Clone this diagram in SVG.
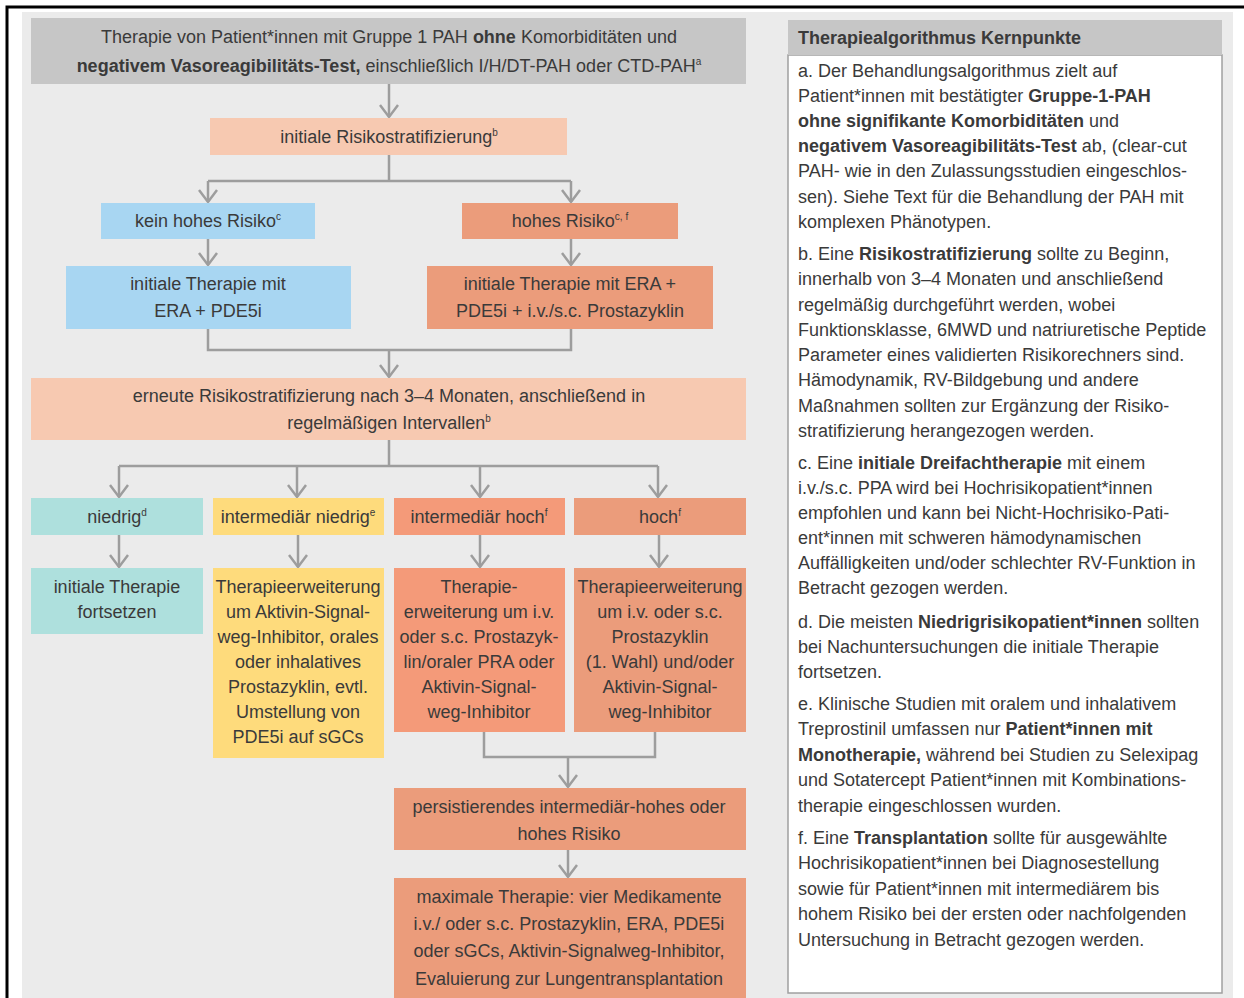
<svg xmlns="http://www.w3.org/2000/svg" width="1244" height="998" viewBox="0 0 1244 998">
<style>
.t{font-family:"Liberation Sans",Arial,sans-serif;font-size:18px;fill:#3a3a3a}
.c{text-anchor:middle}
.b{font-weight:bold}
.sup{font-size:10px}
.conn{stroke:#9d9d9d;stroke-width:2.5;fill:none}
.gray{fill:#c6c6c6}
.lsal{fill:#f7c9b1}
.blue{fill:#a8d6f2}
.orng{fill:#eb9c7b}
.teal{fill:#aee0dd}
.yell{fill:#fedb7c}
.red{fill:#f49a79}
</style>
<defs>
<marker id="ah" markerUnits="userSpaceOnUse" markerWidth="30" markerHeight="30" refX="0" refY="0" orient="auto" overflow="visible">
<path d="M-12,-9 L0,0 L-12,9" fill="none" stroke="#9d9d9d" stroke-width="2.5"/>
</marker>
</defs>
<rect x="0" y="0" width="1244" height="998" fill="#ffffff"/>
<rect x="22" y="12" width="1211" height="990" fill="#ebebeb"/>
<path d="M7,998 V7 H1244" fill="none" stroke="#000" stroke-width="3"/>

<g id="connectors">
<path class="conn" d="M389,84 V117" marker-end="url(#ah)"/>
<path class="conn" d="M389,155 V181 M208,181 H571"/>
<path class="conn" d="M208,181 V202" marker-end="url(#ah)"/>
<path class="conn" d="M571,181 V202" marker-end="url(#ah)"/>
<path class="conn" d="M208,239 V265" marker-end="url(#ah)"/>
<path class="conn" d="M571,239 V265" marker-end="url(#ah)"/>
<path class="conn" d="M208,329 V350 H571 V329"/>
<path class="conn" d="M389,350 V377" marker-end="url(#ah)"/>
<path class="conn" d="M389,440 V466 M119,466 H658"/>
<path class="conn" d="M119,466 V497" marker-end="url(#ah)"/>
<path class="conn" d="M297,466 V497" marker-end="url(#ah)"/>
<path class="conn" d="M480,466 V497" marker-end="url(#ah)"/>
<path class="conn" d="M658,466 V497" marker-end="url(#ah)"/>
<path class="conn" d="M119,535 V567" marker-end="url(#ah)"/>
<path class="conn" d="M298,535 V567" marker-end="url(#ah)"/>
<path class="conn" d="M480,535 V567" marker-end="url(#ah)"/>
<path class="conn" d="M659,535 V567" marker-end="url(#ah)"/>
<path class="conn" d="M484,732 V757 H655 V732"/>
<path class="conn" d="M568,757 V787" marker-end="url(#ah)"/>
<path class="conn" d="M568,850 V877" marker-end="url(#ah)"/>
</g>

<g id="n-start">
<rect class="gray" x="31" y="18" width="715" height="66"/>
<text class="t c" x="389" y="43">Therapie von Patient*innen mit Gruppe 1 PAH <tspan class="b">ohne</tspan> Komorbiditäten und</text>
<text class="t c" x="389" y="72"><tspan class="b">negativem Vasoreagibilitäts-Test,</tspan> einschließlich I/H/DT-PAH oder CTD-PAH<tspan class="sup" dy="-7">a</tspan></text>
</g>

<g id="n-initrisk">
<rect class="lsal" x="210" y="118" width="357" height="37"/>
<text class="t c" x="389" y="143">initiale Risikostratifizierung<tspan class="sup" dy="-7">b</tspan></text>
</g>

<g id="n-keinhoch">
<rect class="blue" x="101" y="203" width="214" height="36"/>
<text class="t c" x="208" y="227">kein hohes Risiko<tspan class="sup" dy="-7">c</tspan></text>
</g>

<g id="n-hoch1">
<rect class="orng" x="462" y="203" width="216" height="36"/>
<text class="t c" x="570" y="227">hohes Risiko<tspan class="sup" dy="-7">c, f</tspan></text>
</g>

<g id="n-ther1">
<rect class="blue" x="66" y="266" width="285" height="63"/>
<text class="t c" x="208" y="290">initiale Therapie mit</text>
<text class="t c" x="208" y="317">ERA + PDE5i</text>
</g>

<g id="n-ther2">
<rect class="orng" x="427" y="266" width="286" height="63"/>
<text class="t c" x="570" y="290">initiale Therapie mit ERA +</text>
<text class="t c" x="570" y="317">PDE5i + i.v./s.c. Prostazyklin</text>
</g>

<g id="n-reassess">
<rect class="lsal" x="31" y="378" width="715" height="62"/>
<text class="t c" x="389" y="402">erneute Risikostratifizierung nach 3–4 Monaten, anschließend in</text>
<text class="t c" x="389" y="429">regelmäßigen Intervallen<tspan class="sup" dy="-7">b</tspan></text>
</g>

<g id="n-niedrig">
<rect class="teal" x="31" y="498" width="172" height="37"/>
<text class="t c" x="117" y="523">niedrig<tspan class="sup" dy="-7">d</tspan></text>
</g>

<g id="n-intniedrig">
<rect class="yell" x="213" y="498" width="171" height="37"/>
<text class="t c" x="298" y="523">intermediär niedrig<tspan class="sup" dy="-7">e</tspan></text>
</g>

<g id="n-inthoch">
<rect class="red" x="394" y="498" width="171" height="37"/>
<text class="t c" x="479" y="523">intermediär hoch<tspan class="sup" dy="-7">f</tspan></text>
</g>

<g id="n-hoch2">
<rect class="orng" x="574" y="498" width="172" height="37"/>
<text class="t c" x="660" y="523">hoch<tspan class="sup" dy="-7">f</tspan></text>
</g>

<g id="n-fortsetzen">
<rect class="teal" x="31" y="568" width="172" height="66"/>
<text class="t c" x="117" y="593">initiale Therapie</text>
<text class="t c" x="117" y="618">fortsetzen</text>
</g>

<g id="n-erw1">
<rect class="yell" x="213" y="568" width="171" height="190"/>
<text class="t c" x="298" y="593">Therapieerweiterung</text>
<text class="t c" x="298" y="618">um Aktivin-Signal-</text>
<text class="t c" x="298" y="643">weg-Inhibitor, orales</text>
<text class="t c" x="298" y="668">oder inhalatives</text>
<text class="t c" x="298" y="693">Prostazyklin, evtl.</text>
<text class="t c" x="298" y="718">Umstellung von</text>
<text class="t c" x="298" y="743">PDE5i auf sGCs</text>
</g>

<g id="n-erw2">
<rect class="red" x="394" y="568" width="171" height="164"/>
<text class="t c" x="479" y="593">Therapie-</text>
<text class="t c" x="479" y="618">erweiterung um i.v.</text>
<text class="t c" x="479" y="643">oder s.c. Prostazyk-</text>
<text class="t c" x="479" y="668">lin/oraler PRA oder</text>
<text class="t c" x="479" y="693">Aktivin-Signal-</text>
<text class="t c" x="479" y="718">weg-Inhibitor</text>
</g>

<g id="n-erw3">
<rect class="orng" x="574" y="568" width="172" height="164"/>
<text class="t c" x="660" y="593">Therapieerweiterung</text>
<text class="t c" x="660" y="618">um i.v. oder s.c.</text>
<text class="t c" x="660" y="643">Prostazyklin</text>
<text class="t c" x="660" y="668">(1. Wahl) und/oder</text>
<text class="t c" x="660" y="693">Aktivin-Signal-</text>
<text class="t c" x="660" y="718">weg-Inhibitor</text>
</g>

<g id="n-persist">
<rect class="orng" x="394" y="788" width="352" height="62"/>
<text class="t c" x="569" y="813">persistierendes intermediär-hohes oder</text>
<text class="t c" x="569" y="840">hohes Risiko</text>
</g>

<g id="n-maximal">
<rect class="orng" x="394" y="878" width="352" height="120"/>
<text class="t c" x="569" y="903">maximale Therapie: vier Medikamente</text>
<text class="t c" x="569" y="930">i.v./ oder s.c. Prostazyklin, ERA, PDE5i</text>
<text class="t c" x="569" y="957">oder sGCs, Aktivin-Signalweg-Inhibitor,</text>
<text class="t c" x="569" y="985">Evaluierung zur Lungentransplantation</text>
</g>

<g id="kernpunkte">
<rect x="788" y="55" width="434" height="938" fill="#ffffff" stroke="#a0a0a0" stroke-width="1.5"/>
<rect class="gray" x="788" y="20" width="434" height="35"/>
<text class="t b" x="798" y="44">Therapiealgorithmus Kernpunkte</text>

<text class="t" x="798" y="77">a. Der Behandlungsalgorithmus zielt auf</text>
<text class="t" x="798" y="102">Patient*innen mit bestätigter <tspan class="b">Gruppe-1-PAH</tspan></text>
<text class="t" x="798" y="127"><tspan class="b">ohne signifikante Komorbiditäten</tspan> und</text>
<text class="t" x="798" y="152"><tspan class="b">negativem Vasoreagibilitäts-Test</tspan> ab, (clear-cut</text>
<text class="t" x="798" y="177">PAH- wie in den Zulassungsstudien eingeschlos-</text>
<text class="t" x="798" y="203">sen). Siehe Text für die Behandlung der PAH mit</text>
<text class="t" x="798" y="228">komplexen Phänotypen.</text>

<text class="t" x="798" y="260">b. Eine <tspan class="b">Risikostratifizierung</tspan> sollte zu Beginn,</text>
<text class="t" x="798" y="285">innerhalb von 3–4 Monaten und anschließend</text>
<text class="t" x="798" y="311">regelmäßig durchgeführt werden, wobei</text>
<text class="t" x="798" y="336">Funktionsklasse, 6MWD und natriuretische Peptide</text>
<text class="t" x="798" y="361">Parameter eines validierten Risikorechners sind.</text>
<text class="t" x="798" y="386">Hämodynamik, RV-Bildgebung und andere</text>
<text class="t" x="798" y="412">Maßnahmen sollten zur Ergänzung der Risiko-</text>
<text class="t" x="798" y="437">stratifizierung herangezogen werden.</text>

<text class="t" x="798" y="469">c. Eine <tspan class="b">initiale Dreifachtherapie</tspan> mit einem</text>
<text class="t" x="798" y="494">i.v./s.c. PPA wird bei Hochrisikopatient*innen</text>
<text class="t" x="798" y="519">empfohlen und kann bei Nicht-Hochrisiko-Pati-</text>
<text class="t" x="798" y="544">ent*innen mit schweren hämodynamischen</text>
<text class="t" x="798" y="569">Auffälligkeiten und/oder schlechter RV-Funktion in</text>
<text class="t" x="798" y="594">Betracht gezogen werden.</text>

<text class="t" x="798" y="628">d. Die meisten <tspan class="b">Niedrigrisikopatient*innen</tspan> sollten</text>
<text class="t" x="798" y="653">bei Nachuntersuchungen die initiale Therapie</text>
<text class="t" x="798" y="678">fortsetzen.</text>

<text class="t" x="798" y="710">e. Klinische Studien mit oralem und inhalativem</text>
<text class="t" x="798" y="735">Treprostinil umfassen nur <tspan class="b">Patient*innen mit</tspan></text>
<text class="t" x="798" y="761"><tspan class="b">Monotherapie,</tspan> während bei Studien zu Selexipag</text>
<text class="t" x="798" y="786">und Sotatercept Patient*innen mit Kombinations-</text>
<text class="t" x="798" y="812">therapie eingeschlossen wurden.</text>

<text class="t" x="798" y="844">f. Eine <tspan class="b">Transplantation</tspan> sollte für ausgewählte</text>
<text class="t" x="798" y="869">Hochrisikopatient*innen bei Diagnosestellung</text>
<text class="t" x="798" y="895">sowie für Patient*innen mit intermediärem bis</text>
<text class="t" x="798" y="920">hohem Risiko bei der ersten oder nachfolgenden</text>
<text class="t" x="798" y="946">Untersuchung in Betracht gezogen werden.</text>
</g>
</svg>
